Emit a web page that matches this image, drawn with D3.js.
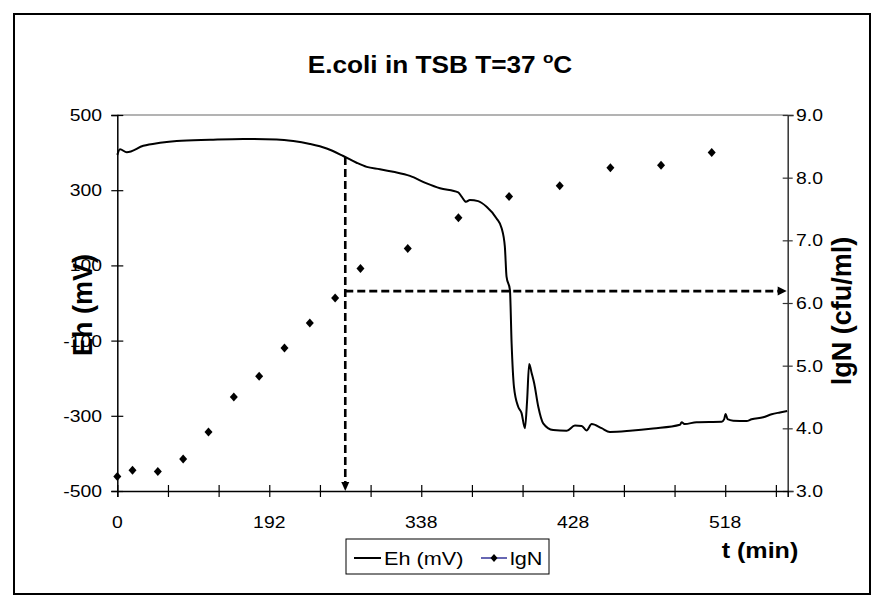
<!DOCTYPE html>
<html>
<head>
<meta charset="utf-8">
<script src="https://cdn.jsdelivr.net/npm/d3@7"></script>
<style>
  html, body { margin: 0; padding: 0; background: #fff; }
  svg { display: block; }
  text { font-family: "Liberation Sans", Arial, sans-serif; fill: #000; }
</style>
</head>
<body>
<svg id="chart" width="884" height="609"></svg>
<script>
// ---------- data ----------
// Eh line: sample index (category position) and value in mV
const ehIndex = [0,1.6,5.6,15.4,25.3,35.2,54.9,74.6,94.4,104.2,114.1,124.0,133.8,141.7,147.7,155.5,163.4,173.3,183.2,191.1,201.9,203.9,206.5,208.8,213.7,218.7,224.6,227.6,229.5,230.5,232.5,233.5,234.9,237.4,239.4,241.4,242.7,243.9,245.4,246.9,249.3,252.2,258.1,266.1,271.0,275.0,277.9,280.9,286.8,291.7,303.6,317.3,333.2,334.2,336.1,343.0,357.9,359.4,360.2,361.4,364.7,372.6,375.6,382.5,387.5,392.4,396.7];
const ehValue = [394,409,401,418,426,431,434,436,435,431,423,411,391,373,362,356,349,338,318,305,294,283,269,274,271,256,225,199,150,70,35,-107,-223,-276,-293,-333,-258,-162,-187,-214,-276,-320,-338,-340,-326,-327,-339,-322,-333,-343,-340,-334,-324,-317,-322,-317,-316,-309,-295,-309,-313,-314,-309,-304,-296,-291,-287];
// lgN points: sample index and value
const lgnIndex = [0,9,24,39,54,69,84,99,114,129,144,172,202,232,262,292,322,352];
const lgnValue = [3.23,3.33,3.31,3.51,3.94,4.50,4.83,5.28,5.68,6.08,6.55,6.87,7.36,7.70,7.87,8.16,8.20,8.40];
// category axis
const categoryCount = 397;
const tickIndices = [0,30,60,90,120,150,180,210,240,270,300,330,360,390];
const labelIndices = [0,90,180,270,360];
const labelTexts = ["0","192","338","428","518"];
const ehTicks = [-500,-300,-100,100,300,500];
const lgnTicks = [3,4,5,6,7,8,9];
// annotation (dashed arrows)
const markIndex = [135];
const markLgN = [6.19];

// ---------- layout ----------
const svg = d3.select("#chart");
const L = 117.3, R = 787.7, T = 115, B = 491;
const SX = 1.14;
const x = d3.scaleLinear().domain([0, categoryCount]).range([L, R]);
const yL = d3.scaleLinear().domain([-500, 500]).range([B, T]);
const yR = d3.scaleLinear().domain([3, 9]).range([B, T]);

svg.append("rect").attr("x",0).attr("y",0).attr("width",884).attr("height",609).attr("fill","#fff");
svg.append("rect").attr("x",14).attr("y",14).attr("width",856).attr("height",580)
  .attr("fill","none").attr("stroke","#000").attr("stroke-width",2);

function txt(xp, yp, s, o) {
  o = o || {};
  const t = svg.append("text")
    .attr("transform", `translate(${xp},${yp}) scale(${o.sx||SX},1)` + (o.rot ? " rotate(-90)" : ""))
    .attr("font-size", o.size || 17)
    .attr("font-weight", o.bold ? "bold" : "normal")
    .attr("text-anchor", o.anchor || "start")
    .text(s);
  return t;
}

// top gridline (500)
svg.append("line").attr("x1",L).attr("x2",R).attr("y1",yL(500)).attr("y2",yL(500))
  .attr("stroke","#9a9a9a").attr("stroke-width",1.5);

// left axis
const gL = svg.append("g").attr("transform",`translate(${L},0)`)
  .call(d3.axisLeft(yL).tickValues(ehTicks).tickSize(6).tickFormat(""));
gL.select(".domain").attr("stroke","#000").attr("stroke-width",1.5);
gL.selectAll(".tick line").attr("x1",6).attr("x2",-6).attr("stroke","#000").attr("stroke-width",1.2);
ehTicks.forEach(v => txt(102, yL(v)+6, String(v), {anchor:"end"}));

// right axis
const gR = svg.append("g").attr("transform",`translate(${R},0)`)
  .call(d3.axisRight(yR).tickValues(lgnTicks).tickSize(6).tickFormat(""));
gR.select(".domain").attr("stroke","#333").attr("stroke-width",1.5);
gR.selectAll(".tick line").attr("x1",-5).attr("x2",5).attr("stroke","#333").attr("stroke-width",1.2);
lgnTicks.forEach(v => txt(796, yR(v)+6, d3.format(".1f")(v), {anchor:"start"}));

// bottom axis
const gB = svg.append("g").attr("transform",`translate(0,${B})`)
  .call(d3.axisBottom(x).tickValues(tickIndices).tickSize(6).tickFormat(""));
gB.select(".domain").attr("stroke","#000").attr("stroke-width",1.5);
gB.selectAll(".tick line").attr("y1",-6).attr("y2",6).attr("stroke","#000").attr("stroke-width",1.2);
labelIndices.forEach((v,i) => txt(x(v), 528, labelTexts[i], {anchor:"middle"}));

// Eh line
const ehData = ehIndex.map((d,i) => ({i:d, v:ehValue[i]}));
svg.append("path").datum(ehData)
  .attr("fill","none").attr("stroke","#000").attr("stroke-width",2)
  .attr("stroke-linejoin","round")
  .attr("d", d3.line().x(d => x(d.i)).y(d => yL(d.v)).curve(d3.curveMonotoneX));

// lgN diamonds
function diamond(cx, cy, w, h) {
  return `M${cx},${cy-h}L${cx+w},${cy}L${cx},${cy+h}L${cx-w},${cy}Z`;
}
lgnIndex.forEach((d,i) => {
  svg.append("path").attr("d", diamond(x(d), yR(lgnValue[i]), 4, 4.5)).attr("fill","#000");
});

// dashed arrows
const ehAt = d3.scaleLinear().domain(ehIndex).range(ehValue);
const mx = x(markIndex[0]);
const my0 = yL(ehAt(markIndex[0]));
const my1 = yR(markLgN[0]);
svg.append("line").attr("x1",mx).attr("x2",mx).attr("y1",my0).attr("y2",B-7)
  .attr("stroke","#000").attr("stroke-width",2.6).attr("stroke-dasharray","8,4");
svg.append("path").attr("d",`M${mx-4},${B-9}L${mx+4},${B-9}L${mx},${B}Z`).attr("fill","#000");
svg.append("line").attr("x1",mx).attr("x2",R-8).attr("y1",my1).attr("y2",my1)
  .attr("stroke","#000").attr("stroke-width",2.6).attr("stroke-dasharray","8,4");
svg.append("path").attr("d",`M${R-10},${my1-4.5}L${R-10},${my1+4.5}L${R-1},${my1}Z`).attr("fill","#000");

// title
const title = svg.append("text")
  .attr("transform", `translate(440,73) scale(${SX},1)`)
  .attr("text-anchor","middle").attr("font-size",23).attr("font-weight","bold");
title.append("tspan").text("E.coli in TSB T=37 ");
title.append("tspan").attr("dy",-10).attr("font-size",15).text("o");
title.append("tspan").attr("dy",10).text("C");

// axis titles
txt(92, 305, "Eh (mV)", {bold:true, size:27, anchor:"middle", rot:true, sx:1.0});
txt(851, 311, "lgN (cfu/ml)", {bold:true, size:27, anchor:"middle", rot:true, sx:1.0});
txt(760, 558, "t (min)", {bold:true, size:22, anchor:"middle"});

// legend
svg.append("rect").attr("x",346).attr("y",539).attr("width",203).attr("height",35)
  .attr("fill","#fff").attr("stroke","#000").attr("stroke-width",1);
svg.append("line").attr("x1",354).attr("x2",381).attr("y1",558).attr("y2",558)
  .attr("stroke","#000").attr("stroke-width",2);
txt(384, 565, "Eh (mV)", {size:19});
svg.append("line").attr("x1",481).attr("x2",507).attr("y1",558).attr("y2",558)
  .attr("stroke","#000080").attr("stroke-width",1.2);
svg.append("path").attr("d", diamond(494, 558, 3.5, 4)).attr("fill","#000");
txt(510, 565, "lgN", {size:19});
</script>
</body>
</html>
